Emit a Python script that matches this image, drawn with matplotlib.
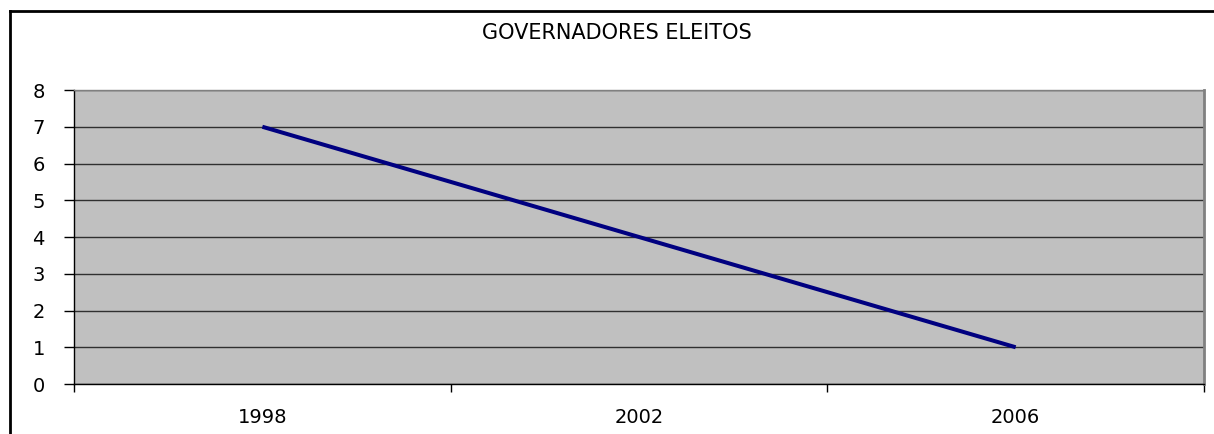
import matplotlib.pyplot as plt
from matplotlib.lines import Line2D

plt.rcParams['font.family'] = ['DejaVu Sans']

# dados
anos = ['1998', '2002', '2006']
governadores = [7, 4, 1]
y_ticks = [0, 1, 2, 3, 4, 5, 6, 7, 8]

W, H = 1214, 434
fig = plt.figure(figsize=(W / 100, H / 100), dpi=100)
ax = fig.add_axes([74 / W, 1 - 384 / H, (1204 - 74) / W, (384 - 90) / H])

ax.set_facecolor('#C0C0C0')
x = list(range(len(anos)))
ax.plot(x, governadores, color='#000080', linewidth=2.9, solid_capstyle='butt', zorder=3)

ax.set_xlim(-0.5, len(anos) - 0.5)
ax.set_ylim(0, 8)
ax.set_yticks(y_ticks)
ax.set_yticklabels([str(v) for v in y_ticks], fontsize=14)
ax.set_xticks(x)
ax.set_xticklabels(anos, fontsize=14)
ax.tick_params(axis='x', length=0, pad=17)
ax.tick_params(axis='y', length=7, width=1, color='black', pad=14)
# marcas entre as categorias
ax.set_xticks([i - 0.5 for i in range(len(anos) + 1)], minor=True)
ax.tick_params(axis='x', which='minor', length=6, width=1, color='black')

ax.grid(axis='y', color='#303030', linewidth=1)
ax.set_axisbelow(True)
for s in ['left', 'bottom']:
    ax.spines[s].set_color('black')
    ax.spines[s].set_linewidth(1)
ax.spines['top'].set_color('#808080')
ax.spines['top'].set_linewidth(1)
ax.spines['right'].set_color('#808080')
ax.spines['right'].set_linewidth(2)

fig.text(617 / W, 1 - 33 / H, 'GOVERNADORES ELEITOS', ha='center', va='center', fontsize=15)

# moldura do gráfico
fig.add_artist(Line2D([9.5 / W, 9.5 / W], [0, 1 - 10.5 / H], transform=fig.transFigure, color='black', linewidth=2))
fig.add_artist(Line2D([9.5 / W, 1], [1 - 10.5 / H, 1 - 10.5 / H], transform=fig.transFigure, color='black', linewidth=2))

fig.savefig('out.png', dpi=100)
